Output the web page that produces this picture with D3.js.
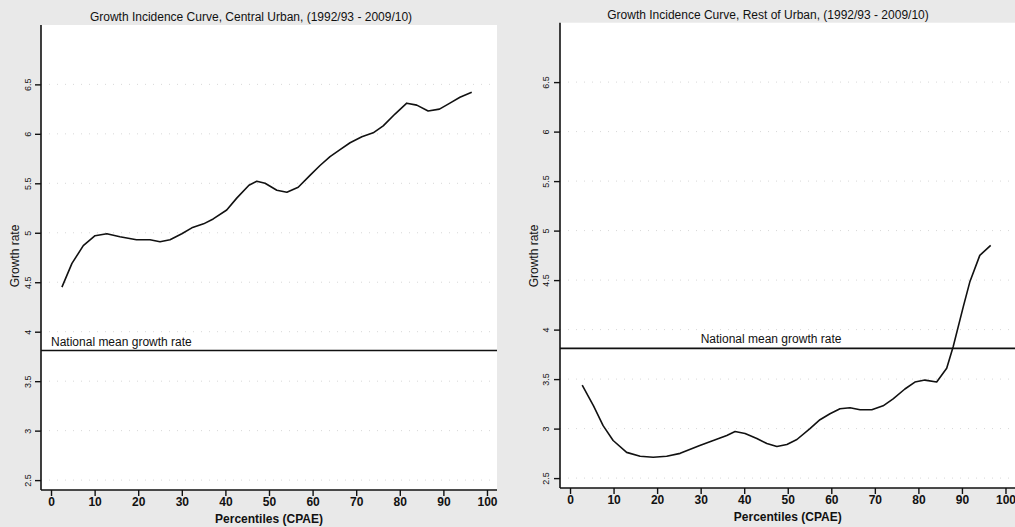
<!DOCTYPE html>
<html>
<head>
<meta charset="utf-8">
<script src="https://cdn.jsdelivr.net/npm/d3@7/dist/d3.min.js"></script>
<style>
  html, body { margin: 0; padding: 0; background: #e9e9e9; }
  svg { display: block; }
  text { font-family: "Liberation Sans", Arial, sans-serif; fill: #111; }
</style>
</head>
<body>
<svg id="chart" width="1015" height="527"></svg>
<script>
// ---- data ----
const titles = [
  "Growth Incidence Curve, Central Urban, (1992/93 - 2009/10)",
  "Growth Incidence Curve, Rest of Urban, (1992/93 - 2009/10)"
];
const xTicks = [0, 10, 20, 30, 40, 50, 60, 70, 80, 90, 100];
const yTicks = [2.5, 3, 3.5, 4, 4.5, 5, 5.5, 6, 6.5];
const nationalMean = 3.81;
const meanLabel = "National mean growth rate";
const xTitle = "Percentiles (CPAE)";
const yTitle = "Growth rate";

const centralPct = [2.5, 4.8, 7.4, 10.1, 12.8, 15.8, 19.6, 22.7, 25, 27.3, 30, 32.3, 35, 37.2, 40.3, 42.6, 45.4,
  47.2, 49.1, 51.8, 54.1, 56.7, 59.4, 61.7, 64, 66.3, 68.6, 71.3, 73.9, 76.2, 78.9, 81.6, 83.9, 86.5, 89.1, 91.5, 93.8, 96.5];
const centralGrowth = [4.45, 4.69, 4.87, 4.97, 4.99, 4.96, 4.93, 4.93, 4.91, 4.93, 4.99, 5.05, 5.09, 5.14, 5.23, 5.35, 5.48,
  5.52, 5.50, 5.43, 5.41, 5.46, 5.58, 5.68, 5.77, 5.84, 5.91, 5.97, 6.01, 6.08, 6.20, 6.31, 6.29, 6.23, 6.25, 6.31, 6.37, 6.42];

const restPct = [2.8, 5.4, 7.6, 9.9, 13, 16.1, 19.1, 22.2, 25.3, 29.8, 32.9, 36, 37.9, 40.2, 42.9, 45.2, 47.5, 49.8,
  52.1, 55.1, 57.4, 59.7, 62, 64.3, 66.6, 69.3, 71.9, 74.2, 76.9, 79.2, 81.5, 84.2, 86.5, 88, 90.3, 91.8, 94.1, 96.6];
const restGrowth = [3.44, 3.23, 3.03, 2.88, 2.76, 2.72, 2.71, 2.72, 2.75, 2.83, 2.88, 2.93, 2.97, 2.95, 2.90, 2.85, 2.82, 2.84,
  2.89, 3.00, 3.09, 3.15, 3.20, 3.21, 3.19, 3.19, 3.23, 3.30, 3.40, 3.47, 3.49, 3.47, 3.61, 3.83, 4.23, 4.48, 4.75, 4.85];

// ---- layout ----
const panels = [
  { title: titles[0], pct: centralPct, val: centralGrowth,
    xr: [41, 497], yr: [490, 25], titleX: 251, titleY: 21, labelPct: 0, labelDy: -5,
    yTitleX: 19, tickLabX: 28 },
  { title: titles[1], pct: restPct, val: restGrowth,
    xr: [560, 1015.5], yr: [488, 22.7], titleX: 768, titleY: 19, labelPct: 30, labelDy: -5,
    yTitleX: 538, tickLabX: 546 }
];

const svg = d3.select("#chart");

panels.forEach(p => {
  const x = d3.scaleLinear().domain([-2.3, 102.3]).range(p.xr);
  const y = d3.scaleLinear().domain([2.4, 7.1]).range(p.yr);
  const g = svg.append("g");

  // white plot area
  g.append("rect")
    .attr("x", p.xr[0]).attr("y", p.yr[1])
    .attr("width", p.xr[1] - p.xr[0]).attr("height", p.yr[0] - p.yr[1])
    .attr("fill", "#fff");

  // faint dotted gridlines
  g.selectAll("line.grid").data(yTicks).enter().append("line")
    .attr("class", "grid")
    .attr("x1", p.xr[0]).attr("x2", p.xr[1])
    .attr("y1", d => y(d)).attr("y2", d => y(d))
    .attr("stroke", "#d8d8d8").attr("stroke-width", 1)
    .attr("stroke-dasharray", "1,7");

  // x axis
  const xAxis = d3.axisBottom(x).tickValues(xTicks).tickSize(6).tickPadding(1).tickFormat(d3.format("d"));
  const xg = g.append("g").attr("transform", `translate(0,${p.yr[0]})`).call(xAxis);
  xg.select(".domain").attr("d", `M${p.xr[0]},0H${p.xr[1]}`).attr("stroke", "#111").attr("stroke-width", 1.6);
  xg.selectAll(".tick line").attr("stroke", "#111").attr("stroke-width", 1.4);
  xg.selectAll(".tick text").attr("font-size", 12).attr("font-weight", "bold")
    .attr("font-family", "Liberation Sans, Arial, sans-serif").attr("fill", "#111");

  // y axis
  const yAxis = d3.axisLeft(y).tickValues(yTicks).tickSize(6).tickFormat(d => d3.format("")(d));
  const yg = g.append("g").attr("transform", `translate(${p.xr[0]},0)`).call(yAxis);
  yg.select(".domain").attr("d", `M0,${p.yr[0]}V${p.yr[1]}`).attr("stroke", "#111").attr("stroke-width", 1.6);
  yg.selectAll(".tick line").attr("stroke", "#111").attr("stroke-width", 1.4);
  yg.selectAll(".tick text")
    .attr("font-size", 9)
    .attr("font-family", "Liberation Sans, Arial, sans-serif").attr("fill", "#111")
    .attr("x", null).attr("dy", null)
    .attr("text-anchor", "middle")
    .attr("transform", `translate(${p.tickLabX - p.xr[0] + 3},0) rotate(-90)`);

  // titles
  g.append("text").attr("x", p.titleX).attr("y", p.titleY)
    .attr("text-anchor", "middle").attr("font-size", 12).text(p.title);
  g.append("text").attr("x", x(50)).attr("y", p.yr[0] + 33)
    .attr("text-anchor", "middle").attr("font-size", 12).attr("font-weight", "bold").text(xTitle);
  g.append("text")
    .attr("transform", `translate(${p.yTitleX},256) rotate(-90)`)
    .attr("text-anchor", "middle").attr("font-size", 12).text(yTitle);

  // national mean line
  g.append("line")
    .attr("x1", p.xr[0]).attr("x2", p.xr[1])
    .attr("y1", y(nationalMean)).attr("y2", y(nationalMean))
    .attr("stroke", "#111").attr("stroke-width", 1.6);
  g.append("text").attr("x", x(p.labelPct)).attr("y", y(nationalMean) + p.labelDy)
    .attr("font-size", 12).text(meanLabel);

  // curve
  const line = d3.line().x(d => x(d[0])).y(d => y(d[1])).curve(d3.curveLinear);
  g.append("path")
    .datum(p.pct.map((v, i) => [v, p.val[i]]))
    .attr("d", line)
    .attr("fill", "none").attr("stroke", "#111").attr("stroke-width", 1.6)
    .attr("stroke-linejoin", "round");
});
</script>
</body>
</html>
